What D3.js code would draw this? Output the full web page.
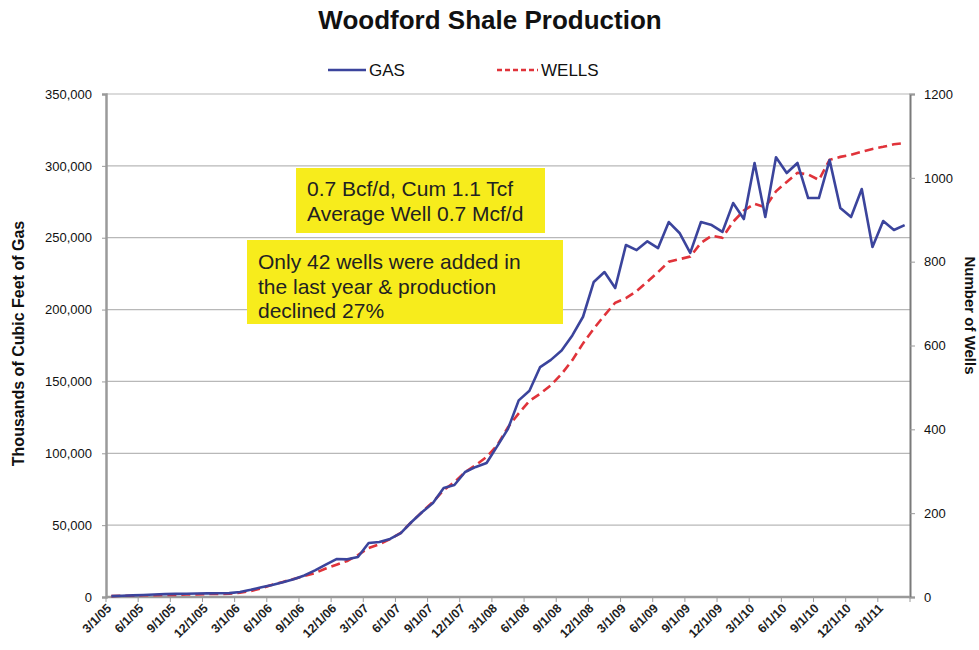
<!DOCTYPE html>
<html>
<head>
<meta charset="utf-8">
<script src="https://cdn.jsdelivr.net/npm/d3@7"></script>
<style>
  body { margin: 0; background: #fff; }
  svg { font-family: Arial, "Liberation Sans", sans-serif; }
</style>
</head>
<body>
<svg width="979" height="650"></svg>
<script>
// monthly, 3/05 .. 5/11
const months = d3.timeMonth.range(new Date(2005, 2, 1), new Date(2011, 5, 1));

const gas = [
	600, 900, 1100, 1400, 1700, 2000, 2200, 2300, 2400, 2500, 2600, 2700,
	3500, 5000, 6800, 8300, 10200, 12400, 15000, 18500, 22500, 26400, 26200, 27800,
	37600, 38300, 40400, 44500, 52200, 59100, 65400, 75800, 77900, 87000, 90500, 93200,
	105000, 117000, 136800, 143500, 160000, 165000, 171500, 182000, 195000, 219200, 226100, 215000,
	244900, 241400, 247500, 242800, 260900, 253300, 239400, 260900, 258800, 254000, 274100, 263000,
	302000, 264400, 306000, 295000, 302000, 277600, 277600, 304000, 270700, 264400, 283900, 243500,
	261600, 255400, 258800
];

const wells = [
	2, 3, 3, 4, 4, 5, 5, 6, 6, 7, 7, 8,
	10, 14, 21, 29, 36, 43, 50, 57, 68, 77, 86, 100,
	117, 126, 138, 153, 179, 203, 227, 255, 274, 298, 315, 334,
	362, 405, 438, 468, 485, 505, 532, 565, 605, 640, 672, 702,
	713, 730, 752, 775, 800, 806, 812, 845, 862, 857, 895, 922,
	938, 930, 968, 990, 1012, 1008, 995, 1043, 1050, 1055, 1062, 1069,
	1074, 1080, 1083
];

const tickLabels = [
	"3/1/05", "6/1/05", "9/1/05", "12/1/05", "3/1/06", "6/1/06", "9/1/06", "12/1/06",
	"3/1/07", "6/1/07", "9/1/07", "12/1/07", "3/1/08", "6/1/08", "9/1/08", "12/1/08",
	"3/1/09", "6/1/09", "9/1/09", "12/1/09", "3/1/10", "6/1/10", "9/1/10", "12/1/10", "3/1/11"
];

const gasTicks = [0, 50000, 100000, 150000, 200000, 250000, 300000, 350000];
const wellTicks = [0, 200, 400, 600, 800, 1000, 1200];

const notes = [
	["0.7 Bcf/d, Cum 1.1 Tcf", "Average Well 0.7 Mcf/d"],
	["Only 42 wells were added in", "the last year & production", "declined 27%"]
];

const svg = d3.select("svg");
const plotL = 106, plotR = 910, plotT = 94, plotB = 597;

const x = d3.scaleBand().domain(d3.range(months.length)).range([plotL, plotR]);
const xc = (i) => x(i) + x.bandwidth() / 2;
const yGas = d3.scaleLinear().domain([0, 350000]).range([plotB, plotT]);
const yWells = d3.scaleLinear().domain([0, 1200]).range([plotB, plotT]);

// gridlines
svg.append("g")
	.selectAll("line")
	.data(gasTicks.slice(1))
	.enter()
	.append("line")
	.attr("x1", plotL).attr("x2", plotR)
	.attr("y1", (d) => yGas(d)).attr("y2", (d) => yGas(d))
	.attr("stroke", "#b8b8b8").attr("stroke-width", 1.2);

// left axis
const yAxisL = svg.append("g")
	.attr("transform", `translate(${plotL},0)`)
	.call(d3.axisLeft(yGas).tickValues(gasTicks).tickFormat(d3.format(",")).tickSize(4).tickPadding(10));
yAxisL.select(".domain").attr("stroke", "#9a9a9a").attr("stroke-width", 2.5);
yAxisL.selectAll(".tick line").attr("stroke", "#9a9a9a");
yAxisL.selectAll("text").attr("font-size", 13).attr("fill", "#111");

// right axis
const yAxisR = svg.append("g")
	.attr("transform", `translate(${plotR},0)`)
	.call(d3.axisRight(yWells).tickValues(wellTicks).tickFormat(d3.format("d")).tickSize(5).tickPadding(9));
yAxisR.select(".domain").attr("stroke", "#7a7a7a").attr("stroke-width", 2);
yAxisR.selectAll(".tick line").attr("stroke", "#9a9a9a");
yAxisR.selectAll("text").attr("font-size", 13).attr("fill", "#111");

// bottom axis
const tickIdx = d3.range(0, months.length + 1, 3);
const xg = svg.append("g");
xg.append("line")
	.attr("x1", plotL).attr("x2", plotR)
	.attr("y1", plotB).attr("y2", plotB)
	.attr("stroke", "#9a9a9a").attr("stroke-width", 2.5);
xg.selectAll("line.tk")
	.data(tickIdx)
	.enter()
	.append("line")
	.attr("class", "tk")
	.attr("x1", (d) => plotL + d * x.step()).attr("x2", (d) => plotL + d * x.step())
	.attr("y1", plotB).attr("y2", plotB + 5)
	.attr("stroke", "#9a9a9a");
xg.selectAll("text")
	.data(tickLabels)
	.enter()
	.append("text")
	.attr("transform", (d, i) => `translate(${plotL + i * 3 * x.step() + 3},${plotB + 9}) rotate(-45)`)
	.attr("text-anchor", "end")
	.attr("dy", "0.35em")
	.attr("font-size", 12.5)
	.attr("font-weight", "bold")
	.attr("fill", "#222")
	.text((d) => d);

// lines
svg.append("path")
	.datum(wells)
	.attr("fill", "none")
	.attr("stroke", "#e0333a")
	.attr("stroke-width", 2.6)
	.attr("stroke-dasharray", "9,5")
	.attr("d", d3.line().x((d, i) => xc(i)).y((d) => yWells(d)));

svg.append("path")
	.datum(gas)
	.attr("fill", "none")
	.attr("stroke", "#3b449c")
	.attr("stroke-width", 2.6)
	.attr("stroke-linejoin", "round")
	.attr("d", d3.line().x((d, i) => xc(i)).y((d) => yGas(d)));

// note boxes
const boxes = [
	{ x: 296, y: 168, w: 249, h: 65, tx: 307, ty: 189 },
	{ x: 247, y: 240, w: 316, h: 84, tx: 258, ty: 262 }
];
boxes.forEach((b, k) => {
	const g = svg.append("g");
	g.append("rect")
		.attr("x", b.x).attr("y", b.y).attr("width", b.w).attr("height", b.h)
		.attr("fill", "#f7ec1c");
	g.selectAll("text")
		.data(notes[k])
		.enter()
		.append("text")
		.attr("x", b.tx)
		.attr("y", (d, i) => b.ty + i * 24.5)
		.attr("dy", "0.35em")
		.attr("font-size", 21)
		.attr("textLength", null)
		.attr("fill", "#222")
		.text((d) => d);
});

// title
svg.append("text")
	.attr("x", 490).attr("y", 29)
	.attr("text-anchor", "middle")
	.attr("font-size", 26)
	.attr("font-weight", "bold")
	.attr("fill", "#111")
	.text("Woodford Shale Production");

// legend
const legend = svg.append("g");
legend.append("line")
	.attr("x1", 328).attr("x2", 366).attr("y1", 70).attr("y2", 70)
	.attr("stroke", "#3b449c").attr("stroke-width", 2.6);
legend.append("text")
	.attr("x", 369).attr("y", 70).attr("dy", "0.35em")
	.attr("font-size", 17).attr("fill", "#111").text("GAS");
legend.append("line")
	.attr("x1", 497).attr("x2", 538).attr("y1", 70).attr("y2", 70)
	.attr("stroke", "#e0333a").attr("stroke-width", 2.6).attr("stroke-dasharray", "5,3");
legend.append("text")
	.attr("x", 541).attr("y", 70).attr("dy", "0.35em")
	.attr("font-size", 17).attr("fill", "#111").text("WELLS");

// axis titles
svg.append("text")
	.attr("transform", `translate(24,${(plotT + plotB) / 2 - 2}) rotate(-90)`)
	.attr("text-anchor", "middle")
	.attr("font-size", 16).attr("font-weight", "bold").attr("fill", "#111")
	.text("Thousands of Cubic Feet of Gas");
svg.append("text")
	.attr("transform", `translate(965,${(plotT + plotB) / 2 - 30}) rotate(90)`)
	.attr("text-anchor", "middle")
	.attr("font-size", 15).attr("font-weight", "bold").attr("fill", "#111")
	.text("Number of Wells");
</script>
</body>
</html>
